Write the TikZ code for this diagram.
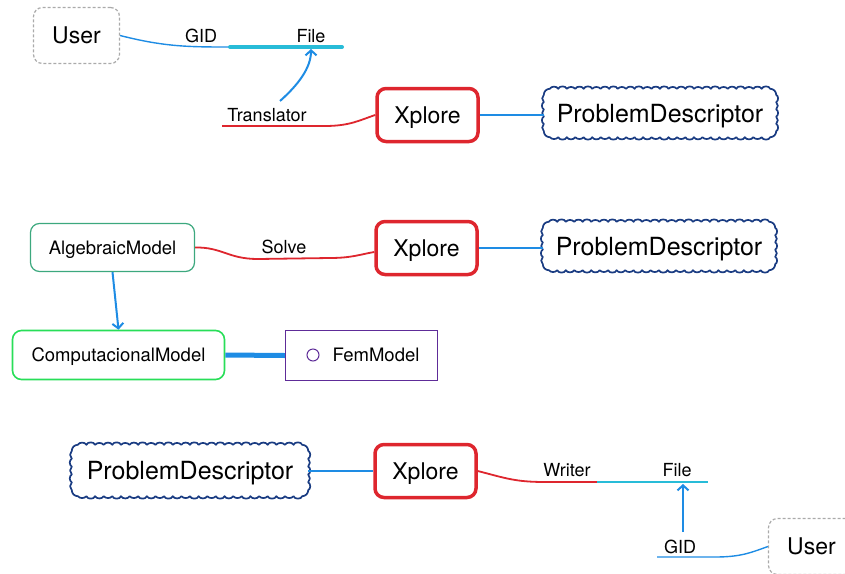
\documentclass[tikz,border=0pt]{standalone}
\usepackage{fontspec}
\setmainfont{TeX Gyre Heros}
\usetikzlibrary{arrows.meta,calc}

\definecolor{xred}{RGB}{222,38,46}
\definecolor{linkblue}{RGB}{30,140,228}
\definecolor{filecyan}{RGB}{40,188,216}
\definecolor{cloudnavy}{RGB}{26,60,130}
\definecolor{tealgreen}{RGB}{60,168,126}
\definecolor{brightgreen}{RGB}{40,222,88}
\definecolor{fempurple}{RGB}{94,44,152}
\definecolor{usergray}{RGB}{170,170,170}

% Scalloped frame around a node: #1 node name, #2 bumps per long side, #3 bumps per short side
\newcommand\cloudframe[3]{%
  \coordinate (#1-tA) at ($(#1.north west)+(6,0)$);
  \coordinate (#1-tB) at ($(#1.north east)+(-6,0)$);
  \coordinate (#1-rA) at ($(#1.north east)+(0,6)$);
  \coordinate (#1-rB) at ($(#1.south east)+(0,-6)$);
  \coordinate (#1-bA) at ($(#1.south east)+(-6,0)$);
  \coordinate (#1-bB) at ($(#1.south west)+(6,0)$);
  \coordinate (#1-lA) at ($(#1.south west)+(0,-6)$);
  \coordinate (#1-lB) at ($(#1.north west)+(0,6)$);
  \draw[cloudline] (#1-tA)
    \foreach \i in {1,...,#2} { to[bend left={48+14*mod(\i,3)}] ($(#1-tA)!\i/#2!(#1-tB)$) }
    to[bend left=45] (#1-rA)
    \foreach \i in {1,...,#3} { to[bend left={48+14*mod(\i,2)}] ($(#1-rA)!\i/#3!(#1-rB)$) }
    to[bend left=45] (#1-bA)
    \foreach \i in {1,...,#2} { to[bend left={48+14*mod(\i+1,3)}] ($(#1-bA)!\i/#2!(#1-bB)$) }
    to[bend left=45] (#1-lA)
    \foreach \i in {1,...,#3} { to[bend left={48+14*mod(\i+1,2)}] ($(#1-lA)!\i/#3!(#1-lB)$) }
    to[bend left=45] (#1-tA) -- cycle;
}

\begin{document}
\begin{tikzpicture}[x=1pt,y=-1pt,
  every node/.style={text depth=0pt},
  bigfont/.style={font=\fontsize{23}{27}\selectfont},
  pdfont/.style={font=\fontsize{25}{29}\selectfont},
  boxfont/.style={font=\fontsize{18.5}{22}\selectfont},
  midfont/.style={font=\fontsize{18}{21}\selectfont},
  userbox/.style={draw=usergray, dashed, dash pattern=on 3pt off 2pt, line width=1.2pt,
    rounded corners=9pt, minimum width=86pt, minimum height=56pt, bigfont},
  xbox/.style={draw=xred, line width=3.5pt, rounded corners=9pt,
    minimum width=101pt, minimum height=53pt, bigfont},
  pdtext/.style={minimum width=232pt, minimum height=48pt, inner sep=0pt, pdfont},
  cloudline/.style={draw=cloudnavy, line width=1.7pt, line join=round},
  lbl/.style={midfont, inner sep=0pt},
  thinlink/.style={draw=linkblue, line width=1.4pt},
  redlink/.style={draw=xred, line width=1.8pt},
  arrowlink/.style={draw=linkblue, line width=2pt,
    -{Straight Barb[length=5pt,width=11pt]}},
]
\useasboundingbox (0,0) rectangle (845,573);
\clip (0,0) rectangle (845,573);

% ---------- top row: reading a file ----------
\node[userbox] (user1) at (76.5,35.5) {User};
\node[xbox] (x1) at (427.5,115) {Xplore};
\node[pdtext] (pd1) at (660,113) {ProblemDescriptor};
\cloudframe{pd1}{26}{5}

\coordinate (fileA) at (230,47);
\coordinate (fileB) at (342,47);
\coordinate (transA) at (222,126);
\coordinate (transTip) at (280,101);
\coordinate (fileIn) at (311,49);

\node[lbl] (gid1) at (201,36) {GID};
\node[lbl] (file1) at (311,36) {File};
\node[lbl] (trans) at (267,115) {Translator};

\draw[thinlink] (user1.east) .. controls (165,47) and (190,47) .. (fileA);
\draw[draw=filecyan, line width=4pt, line cap=round] (fileA) -- (fileB);
\draw[arrowlink] (transTip) .. controls (298,85) and (311,68) .. (fileIn);
\draw[redlink] (transA) -- (325,126) .. controls (350,126) and (360,120) .. (x1.west);
\draw[thinlink] (x1.east) -- (x1.east -| pd1.west);

% ---------- middle row: solving ----------
\node[draw=tealgreen, line width=1.2pt, rounded corners=9pt, minimum width=164pt,
  minimum height=48pt, boxfont] (alg) at (112.5,247.5) {AlgebraicModel};
\node[xbox] (x2) at (426.5,248) {Xplore};
\node[pdtext] (pd2) at (659,246) {ProblemDescriptor};
\cloudframe{pd2}{26}{5}

\node[draw=brightgreen, line width=1.6pt, rounded corners=9pt, minimum width=212pt,
  minimum height=49pt, boxfont] (comp) at (118.5,355) {ComputacionalModel};
\node[draw=fempurple, line width=1.4pt, minimum width=152pt, minimum height=50pt,
  text width=0pt] (fem) at (361.5,355.5) {};
\node[boxfont, inner sep=0pt] (femtext) at (376,355) {FemModel};
\node[circle, draw=fempurple, line width=1pt, minimum size=12pt, inner sep=0pt]
  (femdot) at (313,355) {};

\node[lbl] (solve) at (284,247) {Solve};
\coordinate (x2in) at ($(x2.west)+(0,4)$);

\draw[redlink] (alg.east) .. controls (222,247) and (228,259) .. (258,259)
  -- (330,258) .. controls (352,258) and (362,254) .. (x2in);
\draw[thinlink] (x2.east) -- (x2.east -| pd2.west);
\draw[arrowlink] (alg.south) -- (comp.north);
\draw[draw=linkblue, line width=5pt] (comp.east) -- (fem.west);

% ---------- bottom row: writing a file ----------
\node[pdtext, minimum width=236pt, minimum height=51pt] (pd3) at (190,470.5) {ProblemDescriptor};
\cloudframe{pd3}{26}{5}
\node[xbox] (x3) at (425.5,471) {Xplore};
\node[userbox] (user2) at (811.5,546.5) {User};

\coordinate (writeEnd) at (597,482);
\coordinate (file3B) at (708,482);
\coordinate (gidTail) at (683,532);
\coordinate (file3In) at (683,484);
\coordinate (gidStart) at (657,557);

\node[lbl] (writer) at (567,470) {Writer};
\node[lbl] (file3) at (677,470) {File};
\node[lbl] (gid3) at (680,547) {GID};

\draw[thinlink] (x3.west -| pd3.east) -- (x3.west);
\draw[redlink] (x3.east) .. controls (505,478) and (515,482) .. (545,482) -- (writeEnd);
\draw[draw=filecyan, line width=1.6pt] (writeEnd) -- (file3B);
\draw[arrowlink] (gidTail) -- (file3In);
\draw[thinlink] (gidStart) -- (715,557) .. controls (740,557) and (750,553) .. (user2.west);
\end{tikzpicture}
\end{document}
